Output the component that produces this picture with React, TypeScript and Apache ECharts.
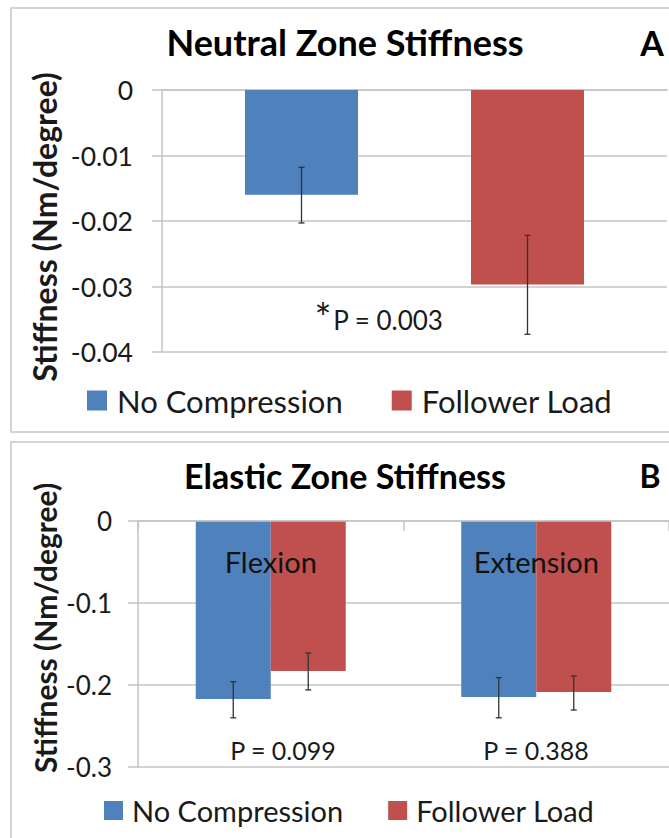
import React, { useEffect, useRef } from "react";
import * as echarts from "echarts";

// ---------- Data ----------
const seriesNames = ["No Compression", "Follower Load"];
const yName = "Stiffness (Nm/degree)";

// Panel A: Neutral Zone Stiffness
const categoriesA = [""];
const noCompA = [-0.016];
const followerA = [-0.0297];
const noCompA_low = [-0.0203];
const noCompA_high = [-0.0118];
const followerA_low = [-0.0373];
const followerA_high = [-0.0222];
const ticksA = { min: -0.04, max: 0, interval: 0.01 };

// Panel B: Elastic Zone Stiffness
const categoriesB = ["Flexion", "Extension"];
const noCompB = [-0.217, -0.2146];
const followerB = [-0.183, -0.2085];
const noCompB_low = [-0.24, -0.24];
const noCompB_high = [-0.196, -0.191];
const followerB_low = [-0.206, -0.2305];
const followerB_high = [-0.161, -0.189];
const ticksB = { min: -0.3, max: 0, interval: 0.1 };

const pTextA = "P = 0.003";
const pTextsB = ["P = 0.099", "P = 0.388"];

// ---------- Style ----------
const BLUE = "#4f81bd";
const RED = "#c0504d";
const FONT = "Lato";
const GRID_COLOR = "#c4c4c4";
const TEXT = "#1a1a1a";

const barWA = 113;
const barWB = 75;

function errSeries(name: string, xi: number, yi: number, low: number[], high: number[], offset: number) {
  return {
    type: "custom",
    name,
    xAxisIndex: xi,
    yAxisIndex: yi,
    z: 10,
    data: low.map((l, i) => [i, l, high[i]]),
    encode: { x: 0, y: [1, 2] },
    renderItem: (params: any, api: any) => {
      const idx = api.value(0);
      const lo = api.value(1);
      const hi = api.value(2);
      const p1 = api.coord([idx, hi]);
      const p2 = api.coord([idx, lo]);
      const cx = p1[0] + offset;
      const st = { stroke: "#333333", lineWidth: 1.3 };
      return {
        type: "group",
        children: [
          { type: "line", shape: { x1: cx, y1: p1[1], x2: cx, y2: p2[1] }, style: st },
          { type: "line", shape: { x1: cx - 3, y1: p1[1], x2: cx + 3, y2: p1[1] }, style: st },
          { type: "line", shape: { x1: cx - 3, y1: p2[1], x2: cx + 3, y2: p2[1] }, style: st },
        ],
      };
    },
  };
}

function yAxisCfg(gridIndex: number, t: { min: number; max: number; interval: number }, digits: number, labelSize: number, margin: number) {
  return {
    type: "value",
    gridIndex,
    min: t.min,
    max: t.max,
    interval: t.interval,
    axisLine: { show: true, lineStyle: { color: GRID_COLOR, width: 1.5 } },
    axisTick: { show: true, length: 10, lineStyle: { color: GRID_COLOR, width: 1.5 } },
    axisLabel: {
      fontFamily: FONT,
      fontSize: labelSize,
      color: TEXT,
      margin,
      formatter: (v: number) => (Math.abs(v) < 1e-12 ? "0" : v.toFixed(digits)),
    },
    splitLine: { show: true, lineStyle: { color: GRID_COLOR, width: 1.5 } },
  };
}

export default function App() {
  const ref = useRef<HTMLDivElement>(null);
  useEffect(() => {
    if (!ref.current) return;
    const chart = echarts.init(ref.current, null, { renderer: "svg" });
    const option: any = {
      animation: false,
      backgroundColor: "#ffffff",
      grid: [
        { left: 162, top: 90, width: 505, height: 262 },
        { left: 138, top: 521, width: 531, height: 246 },
      ],
      xAxis: [
        {
          type: "category",
          gridIndex: 0,
          position: "top",
          data: categoriesA,
          axisLine: { show: true, onZero: false, lineStyle: { color: GRID_COLOR, width: 1.5 } },
          axisTick: { show: false },
          axisLabel: { show: false },
        },
        {
          type: "category",
          gridIndex: 1,
          position: "top",
          data: categoriesB,
          z: 10,
          axisLine: { show: true, onZero: false, lineStyle: { color: GRID_COLOR, width: 1.5 } },
          axisTick: { show: true, inside: true, length: 10, lineStyle: { color: GRID_COLOR, width: 1.5 } },
          axisLabel: { show: true, inside: true, fontFamily: FONT, fontSize: 29, color: "#111", margin: 26 },
        },
      ],
      yAxis: [yAxisCfg(0, ticksA, 2, 26.5, 29), yAxisCfg(1, ticksB, 1, 26, 26)],
      legend: [
        {
          data: seriesNames,
          left: 87,
          top: 385,
          padding: 0,
          itemWidth: 20,
          itemHeight: 20,
          itemGap: 49,
          icon: "rect",
          textStyle: { fontFamily: FONT, fontSize: 31, color: TEXT, padding: [0, 0, 0, 5] },
          selectedMode: false,
        },
        {
          data: seriesNames,
          left: 104,
          top: 796,
          padding: 0,
          itemWidth: 19,
          itemHeight: 19,
          itemGap: 45,
          icon: "rect",
          textStyle: { fontFamily: FONT, fontSize: 29, color: TEXT, padding: [0, 0, 0, 4] },
          selectedMode: false,
        },
      ],
      series: [
        { type: "bar", name: seriesNames[0], xAxisIndex: 0, yAxisIndex: 0, data: noCompA, barWidth: barWA, barGap: "100%", itemStyle: { color: BLUE } },
        { type: "bar", name: seriesNames[1], xAxisIndex: 0, yAxisIndex: 0, data: followerA, barWidth: barWA, barGap: "100%", itemStyle: { color: RED } },
        { type: "bar", name: seriesNames[0], xAxisIndex: 1, yAxisIndex: 1, data: noCompB, barWidth: barWB, barGap: "0%", itemStyle: { color: BLUE } },
        { type: "bar", name: seriesNames[1], xAxisIndex: 1, yAxisIndex: 1, data: followerB, barWidth: barWB, barGap: "0%", itemStyle: { color: RED } },
        errSeries("errA0", 0, 0, noCompA_low, noCompA_high, -barWA),
        errSeries("errA1", 0, 0, followerA_low, followerA_high, barWA),
        errSeries("errB0", 1, 1, noCompB_low, noCompB_high, -barWB / 2),
        errSeries("errB1", 1, 1, followerB_low, followerB_high, barWB / 2),
      ],
      graphic: [
        { type: "rect", shape: { x: 11, y: 8, width: 680, height: 424 }, style: { fill: "none", stroke: "#d4d4d4", lineWidth: 2 }, silent: true },
        { type: "rect", shape: { x: 11, y: 442, width: 680, height: 420 }, style: { fill: "none", stroke: "#d4d4d4", lineWidth: 2 }, silent: true },
        { type: "text", x: 345, y: 42, style: { text: "Neutral Zone Stiffness", fontFamily: FONT, fontWeight: "bold", fontSize: 36, fill: "#000", textAlign: "center", textVerticalAlign: "middle" } },
        { type: "text", x: 652, y: 42, style: { text: "A", fontFamily: FONT, fontWeight: "bold", fontSize: 34, fill: "#000", textAlign: "center", textVerticalAlign: "middle" } },
        { type: "text", x: 345, y: 475, style: { text: "Elastic Zone Stiffness", fontFamily: FONT, fontWeight: "bold", fontSize: 34, fill: "#000", textAlign: "center", textVerticalAlign: "middle" } },
        { type: "text", x: 650, y: 475, style: { text: "B", fontFamily: FONT, fontWeight: "bold", fontSize: 32, fill: "#000", textAlign: "center", textVerticalAlign: "middle" } },
        { type: "text", x: 44, y: 227, rotation: Math.PI / 2, style: { text: yName, fontFamily: FONT, fontWeight: "bold", fontSize: 32, fill: TEXT, textAlign: "center", textVerticalAlign: "middle" } },
        { type: "text", x: 45, y: 628, rotation: Math.PI / 2, style: { text: yName, fontFamily: FONT, fontWeight: "bold", fontSize: 30, fill: TEXT, textAlign: "center", textVerticalAlign: "middle" } },
        { type: "text", x: 323, y: 318, style: { text: "*", fontFamily: FONT, fontSize: 40, fill: TEXT, textAlign: "center", textVerticalAlign: "middle" } },
        { type: "text", x: 388, y: 320, style: { text: pTextA, fontFamily: FONT, fontSize: 26, fill: TEXT, textAlign: "center", textVerticalAlign: "middle" } },
        { type: "text", x: 283, y: 750, style: { text: pTextsB[0], fontFamily: FONT, fontSize: 25, fill: TEXT, textAlign: "center", textVerticalAlign: "middle" } },
        { type: "text", x: 536, y: 750, style: { text: pTextsB[1], fontFamily: FONT, fontSize: 25, fill: TEXT, textAlign: "center", textVerticalAlign: "middle" } },
      ],
    };
    chart.setOption(option);
    return () => chart.dispose();
  }, []);
  return <div ref={ref} style={{ position: "absolute", left: 0, top: 0, width: 669, height: 838 }} />;
}
